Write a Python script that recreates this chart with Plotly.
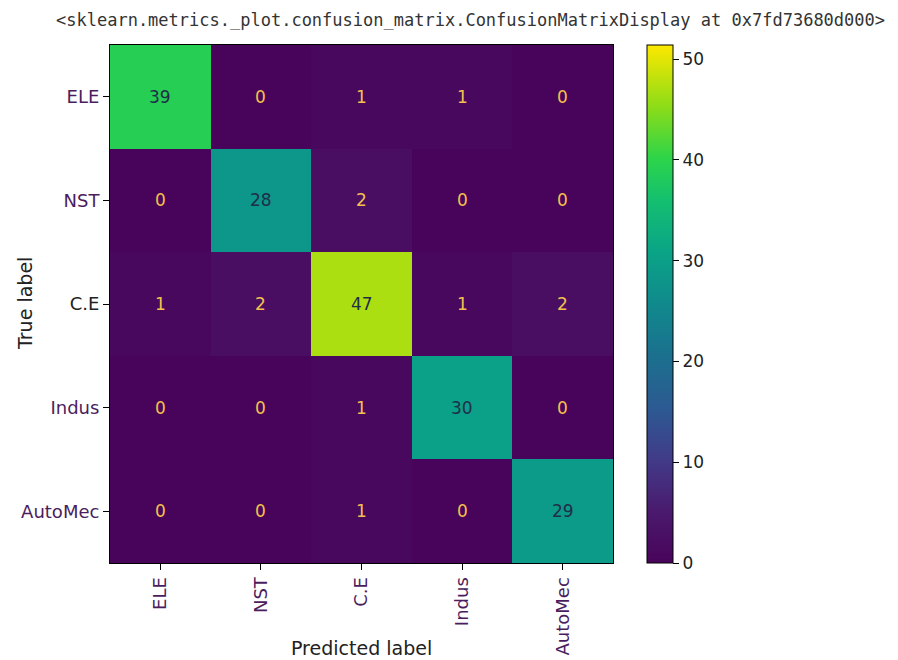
import plotly.graph_objects as go

labels = ["ELE", "NST", "C.E", "Indus", "AutoMec"]
matrix = [
    [39, 0, 1, 1, 0],
    [0, 28, 2, 0, 0],
    [1, 2, 47, 1, 2],
    [0, 0, 1, 30, 0],
    [0, 0, 1, 0, 29],
]
cbar_ticks = [0, 10, 20, 30, 40, 50]
title_text = "&lt;sklearn.metrics._plot.confusion_matrix.ConfusionMatrixDisplay at 0x7fd73680d000&gt;"

zmax = 51.4
purple = "#4b1d5e"

# viridis-like scale, tuned to the saturated tones of the reference picture
colorscale = [
    [0.0, "#48045a"],
    [0.1, "#4a1a6e"],
    [0.2, "#413b88"],
    [0.3, "#2c5a92"],
    [0.4, "#1b708e"],
    [0.5, "#108a8c"],
    [0.6, "#0aa487"],
    [0.7, "#14bf70"],
    [0.78, "#2cd44a"],
    [0.88, "#8cdc18"],
    [1.0, "#fde800"],
]

fig = go.Figure()
fig.add_trace(go.Heatmap(
    z=matrix, x=labels, y=labels,
    colorscale=colorscale, zmin=0, zmax=zmax,
    colorbar=dict(
        thickness=26, len=518, lenmode="pixels",
        x=1.0676, xanchor="left", y=1, yanchor="top",
        xpad=0, ypad=0,
        tickvals=cbar_ticks, ticks="outside", ticklen=6, tickcolor="black",
        tickfont=dict(size=17, color="#222"),
        outlinewidth=1, outlinecolor="black",
    ),
    hoverinfo="skip",
))

annotations = []
for i, row in enumerate(matrix):
    for j, v in enumerate(row):
        color = "#f4c04e" if v < zmax / 2 else "#1f2e48"
        annotations.append(dict(
            x=labels[j], y=labels[i], text=str(v), showarrow=False,
            font=dict(size=17, color=color, family="DejaVu Sans"),
        ))

ytick_text = [f"<span style='color:{'#222' if l == 'C.E' else purple}'>{l}</span>" for l in labels]

fig.update_layout(
    width=898, height=660,
    margin=dict(l=102, r=293, t=37, b=105),
    paper_bgcolor="white", plot_bgcolor="white",
    font=dict(family="DejaVu Sans", color="#222"),
    annotations=annotations + [
        dict(text=title_text, xref="paper", yref="paper", x=0.716, y=1.0, yshift=25,
             xanchor="center", yanchor="middle", showarrow=False,
             font=dict(family="DejaVu Sans Mono", size=17, color="#333")),
        dict(text="Predicted label", xref="paper", yref="paper", x=0.5, y=0, yshift=-85,
             xanchor="center", yanchor="middle", showarrow=False,
             font=dict(size=19, color="#222")),
        dict(text="True label", xref="paper", yref="paper", x=0, xshift=-85, y=0.5,
             xanchor="center", yanchor="middle", showarrow=False, textangle=-90,
             font=dict(size=19, color="#222")),
    ],
    xaxis=dict(
        tickmode="array", tickvals=labels, ticktext=labels,
        tickangle=-90, tickfont=dict(size=18, color=purple),
        ticks="outside", ticklen=6, tickcolor="black",
        showline=True, linecolor="black", linewidth=1, mirror=True,
        automargin=False,
    ),
    yaxis=dict(
        tickmode="array", tickvals=labels, ticktext=ytick_text,
        autorange="reversed", tickfont=dict(size=18, color=purple),
        ticks="outside", ticklen=6, tickcolor="black",
        showline=True, linecolor="black", linewidth=1, mirror=True,
        automargin=False,
    ),
)

fig.write_html("out.html")
